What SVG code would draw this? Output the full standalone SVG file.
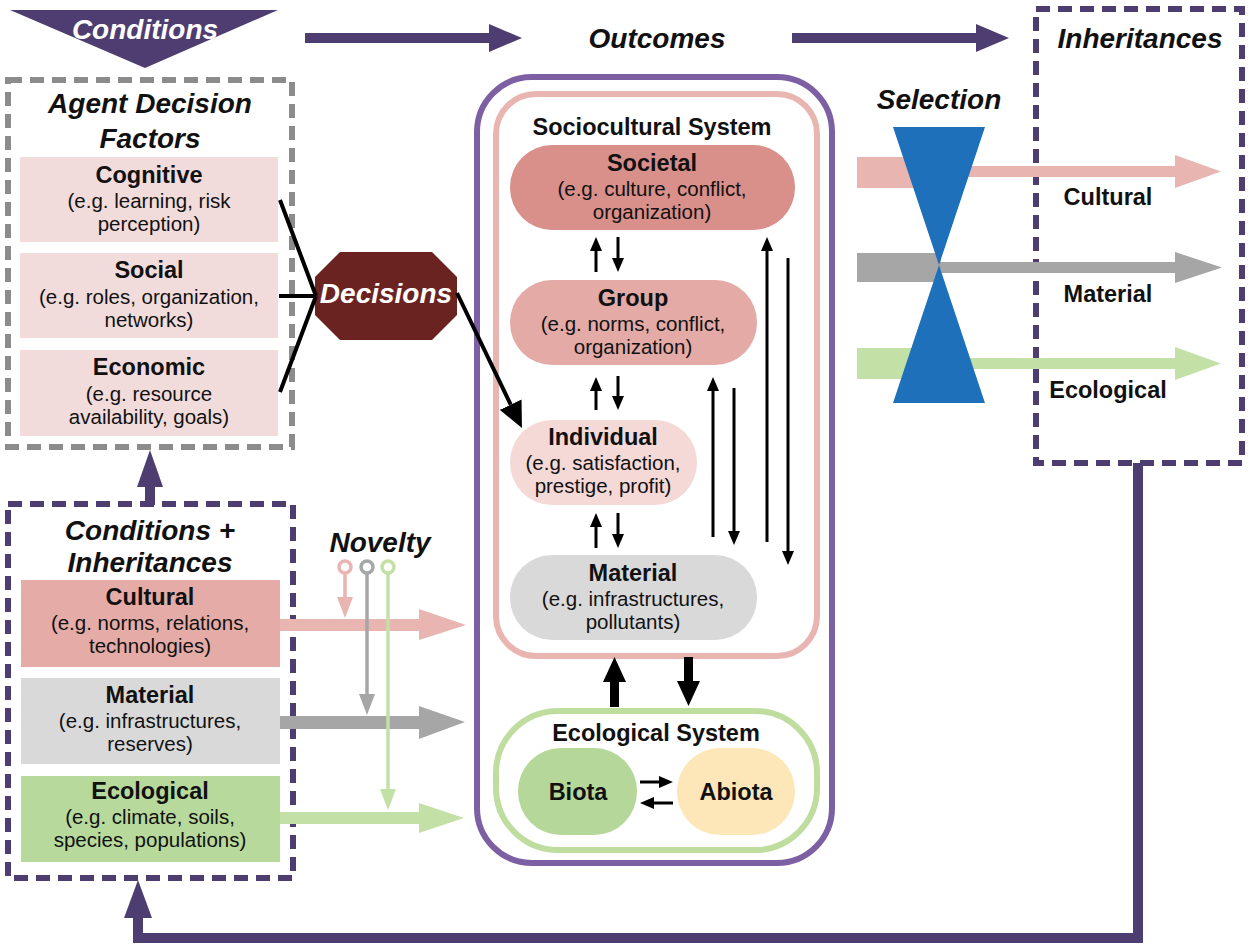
<svg xmlns="http://www.w3.org/2000/svg" width="1250" height="947" viewBox="0 0 1250 947">
<defs>
<style>
text{font-family:"Liberation Sans","Arial",sans-serif;text-anchor:middle;fill:#111}
.h{font-weight:700;font-size:23.5px}
.s{font-size:20.5px}
.hi{font-weight:700;font-style:italic;font-size:28px}
.w{fill:#fff}
.dash{fill:none;stroke-width:6;stroke-dasharray:14 8}
.blk{stroke:#000;stroke-width:3;fill:none}
.dp{fill:#4e3d70}
</style>
<marker id="ah" viewBox="0 0 14 12" refX="0" refY="6" markerWidth="14" markerHeight="12" markerUnits="userSpaceOnUse" orient="auto"><path d="M0,0 L14,6 L0,12 z" fill="#000"/></marker>
<marker id="ahb" viewBox="0 0 26 24" refX="0" refY="12" markerWidth="26" markerHeight="24" markerUnits="userSpaceOnUse" orient="auto"><path d="M0,0 L26,12 L0,24 z" fill="#000"/></marker>
</defs>
<rect width="1250" height="947" fill="#fff"/>

<g id="conditions">
<polygon class="dp" points="10,10 278,10 145,68"/>
<text class="hi w" x="145" y="39">Conditions</text>
</g>
<g id="outcomes"><text class="hi" x="657" y="48">Outcomes</text></g>

<g id="inheritances">
<rect class="dash" x="1036" y="9" width="206" height="454" stroke="#4e3d70"/>
<text class="hi" x="1140" y="48">Inheritances</text>
<text class="h" x="1108" y="205">Cultural</text>
<text class="h" x="1108" y="302">Material</text>
<text class="h" x="1108" y="398">Ecological</text>
</g>

<g id="agent-decision-factors">
<rect class="dash" x="8" y="80" width="284" height="367" stroke="#8c8c8c"/>
<text class="hi" x="150" y="113">Agent Decision</text>
<text class="hi" x="150" y="148">Factors</text>
</g>
<g id="cognitive">
<rect x="20" y="157" width="258" height="85" fill="#f2dcdb"/>
<text class="h" x="149" y="183">Cognitive</text>
<text class="s" x="149" y="208">(e.g. learning, risk</text>
<text class="s" x="149" y="231">perception)</text>
</g>
<g id="social">
<rect x="20" y="253" width="258" height="85" fill="#f2dcdb"/>
<text class="h" x="149" y="278">Social</text>
<text class="s" x="149" y="304">(e.g. roles, organization,</text>
<text class="s" x="149" y="327">networks)</text>
</g>
<g id="economic">
<rect x="20" y="350" width="258" height="86" fill="#f2dcdb"/>
<text class="h" x="149" y="375">Economic</text>
<text class="s" x="149" y="401">(e.g. resource</text>
<text class="s" x="149" y="424">availability, goals)</text>
</g>

<g id="conditions-inheritances">
<rect class="dash" x="8" y="504" width="285" height="374" stroke="#4e3d70"/>
<text class="hi" x="150" y="540">Conditions +</text>
<text class="hi" x="150" y="572">Inheritances</text>
</g>
<g id="cultural-in">
<rect x="21" y="580" width="259" height="87" fill="#e5aba7"/>
<text class="h" x="150" y="605">Cultural</text>
<text class="s" x="150" y="630">(e.g. norms, relations,</text>
<text class="s" x="150" y="653">technologies)</text>
</g>
<g id="material-in">
<rect x="21" y="678" width="259" height="86" fill="#d9d9d9"/>
<text class="h" x="150" y="703">Material</text>
<text class="s" x="150" y="728">(e.g. infrastructures,</text>
<text class="s" x="150" y="751">reserves)</text>
</g>
<g id="ecological-in">
<rect x="21" y="776" width="259" height="86" fill="#b7da9c"/>
<text class="h" x="150" y="799">Ecological</text>
<text class="s" x="150" y="824">(e.g. climate, soils,</text>
<text class="s" x="150" y="847">species, populations)</text>
</g>

<g id="decisions">
<polygon points="340,252 432,252 457,277 457,315 432,340 340,340 315,315 315,277" fill="#6b2321"/>
<text class="hi w" x="386" y="303" font-size="21.5">Decisions</text>
</g>

<g id="outcome-system">
<rect x="477" y="77" width="355" height="786" rx="55" fill="none" stroke="#7d60a3" stroke-width="6"/>
</g>
<g id="sociocultural-system">
<rect x="496" y="94" width="321" height="562" rx="40" fill="none" stroke="#e8b5b1" stroke-width="6"/>
<text class="h" x="652" y="135" font-size="22.5">Sociocultural System</text>
</g>
<g id="societal">
<rect x="510" y="145" width="285" height="85" rx="42" fill="#d98f8a"/>
<text class="h" x="652" y="171">Societal</text>
<text class="s" x="652" y="196">(e.g. culture, conflict,</text>
<text class="s" x="652" y="219">organization)</text>
</g>
<g id="group">
<rect x="510" y="280" width="247" height="85" rx="42" fill="#e3aaa6"/>
<text class="h" x="633" y="306">Group</text>
<text class="s" x="633" y="331">(e.g. norms, conflict,</text>
<text class="s" x="633" y="354">organization)</text>
</g>
<g id="individual">
<rect x="510" y="420" width="187" height="85" rx="42" fill="#f5d9d7"/>
<text class="h" x="603" y="445">Individual</text>
<text class="s" x="603" y="470">(e.g. satisfaction,</text>
<text class="s" x="603" y="493">prestige, profit)</text>
</g>
<g id="material">
<rect x="510" y="555" width="247" height="85" rx="42" fill="#d9d9d9"/>
<text class="h" x="633" y="581">Material</text>
<text class="s" x="633" y="606">(e.g. infrastructures,</text>
<text class="s" x="633" y="629">pollutants)</text>
</g>
<g id="ecological-system">
<rect x="496" y="711" width="321" height="139" rx="62" fill="none" stroke="#bedd9f" stroke-width="6"/>
<text class="h" x="656" y="741" font-size="22.5">Ecological System</text>
</g>
<g id="biota">
<rect x="518" y="748" width="119" height="87" rx="43" fill="#b5d79a"/>
<text class="h" x="578" y="800">Biota</text>
</g>
<g id="abiota">
<rect x="677" y="748" width="118" height="87" rx="43" fill="#fde7b8"/>
<text class="h" x="736" y="800">Abiota</text>
</g>

<g id="selection">
<text class="hi" x="939" y="109">Selection</text>
</g>

<g id="connectors">
<rect class="dp" x="305" y="33" width="186" height="10"/>
<polygon class="dp" points="489,24 522,38 489,52"/>
<rect class="dp" x="792" y="33" width="186" height="10"/>
<polygon class="dp" points="976,24 1009,38 976,52"/>
<rect class="dp" x="145" y="485" width="10" height="20"/>
<polygon class="dp" points="137,487 163,487 150,450"/>
<path d="M1138,463 V938 H138 V916" fill="none" stroke="#4e3d70" stroke-width="10"/>
<polygon class="dp" points="124,918 152,918 138,880"/>
<path d="M280,200 L316,296 M279,296 L316,296 M280,392 L316,296" stroke="#000" stroke-width="4" fill="none"/>
<line x1="457" y1="293" x2="510.7" y2="404.6" stroke="#000" stroke-width="4" marker-end="url(#ahb)"/>
<rect x="280" y="619" width="141" height="12" fill="#e8b5b1"/>
<polygon points="419,609 466,625 419,640" fill="#e8b5b1"/>
<rect x="280" y="716" width="141" height="13" fill="#a6a6a6"/>
<polygon points="419,706 465,722 419,739" fill="#a6a6a6"/>
<rect x="280" y="812" width="141" height="12" fill="#c3e0a6"/>
<polygon points="419,803 464,818 419,833" fill="#c3e0a6"/>
<g fill="none" stroke-width="3.5">
<line x1="345" y1="573" x2="345" y2="600" stroke="#e8b5b1"/>
<line x1="367" y1="573" x2="367" y2="697" stroke="#a6a6a6"/>
<line x1="388" y1="573" x2="388" y2="792" stroke="#c3e0a6"/>
<circle cx="345" cy="567" r="6" stroke="#e8b5b1" fill="#fff"/>
<circle cx="367" cy="567" r="6" stroke="#a6a6a6" fill="#fff"/>
<circle cx="388" cy="567" r="6" stroke="#c3e0a6" fill="#fff"/>
</g>
<polygon points="337,597 353,597 345,618" fill="#e8b5b1"/>
<polygon points="359,694 375,694 367,715" fill="#a6a6a6"/>
<polygon points="380,789 396,789 388,810" fill="#c3e0a6"/>
<g class="blk" marker-end="url(#ah)">
<line x1="596" y1="272" x2="596" y2="251"/>
<line x1="618" y1="237" x2="618" y2="258"/>
<line x1="596" y1="410" x2="596" y2="391"/>
<line x1="618" y1="376" x2="618" y2="396"/>
<line x1="596" y1="548" x2="596" y2="527"/>
<line x1="618" y1="513" x2="618" y2="534"/>
<line x1="767" y1="542" x2="767" y2="251"/>
<line x1="788" y1="258" x2="788" y2="551"/>
<line x1="713" y1="537" x2="713" y2="391"/>
<line x1="734" y1="388" x2="734" y2="531"/>
<line x1="640" y1="782" x2="659" y2="782"/>
<line x1="673" y1="803" x2="654" y2="803"/>
</g>
<rect x="610" y="680" width="9" height="27" fill="#000"/>
<polygon points="603,682 626,682 614.5,657" fill="#000"/>
<rect x="684" y="657" width="9" height="26" fill="#000"/>
<polygon points="677,681 700,681 688.5,706" fill="#000"/>
<rect x="857" y="157" width="84" height="31" fill="#e8b5b1"/>
<rect x="940" y="166" width="236" height="11" fill="#e8b5b1"/>
<polygon points="1175,155 1221,171.5 1175,188" fill="#e8b5b1"/>
<rect x="857" y="253" width="84" height="29" fill="#a6a6a6"/>
<rect x="940" y="262" width="236" height="11" fill="#a6a6a6"/>
<polygon points="1175,252 1222,267.5 1175,283" fill="#a6a6a6"/>
<rect x="857" y="348" width="84" height="31" fill="#c3e0a6"/>
<rect x="940" y="358" width="236" height="11" fill="#c3e0a6"/>
<polygon points="1175,347 1221,363.5 1175,380" fill="#c3e0a6"/>
<polygon points="893,127 985,127 939,265 985,403 893,403 939,265" fill="#1e70bb"/>
</g>
<g id="novelty-label"><text class="hi" x="380" y="552" font-size="28">Novelty</text></g>
</svg>
